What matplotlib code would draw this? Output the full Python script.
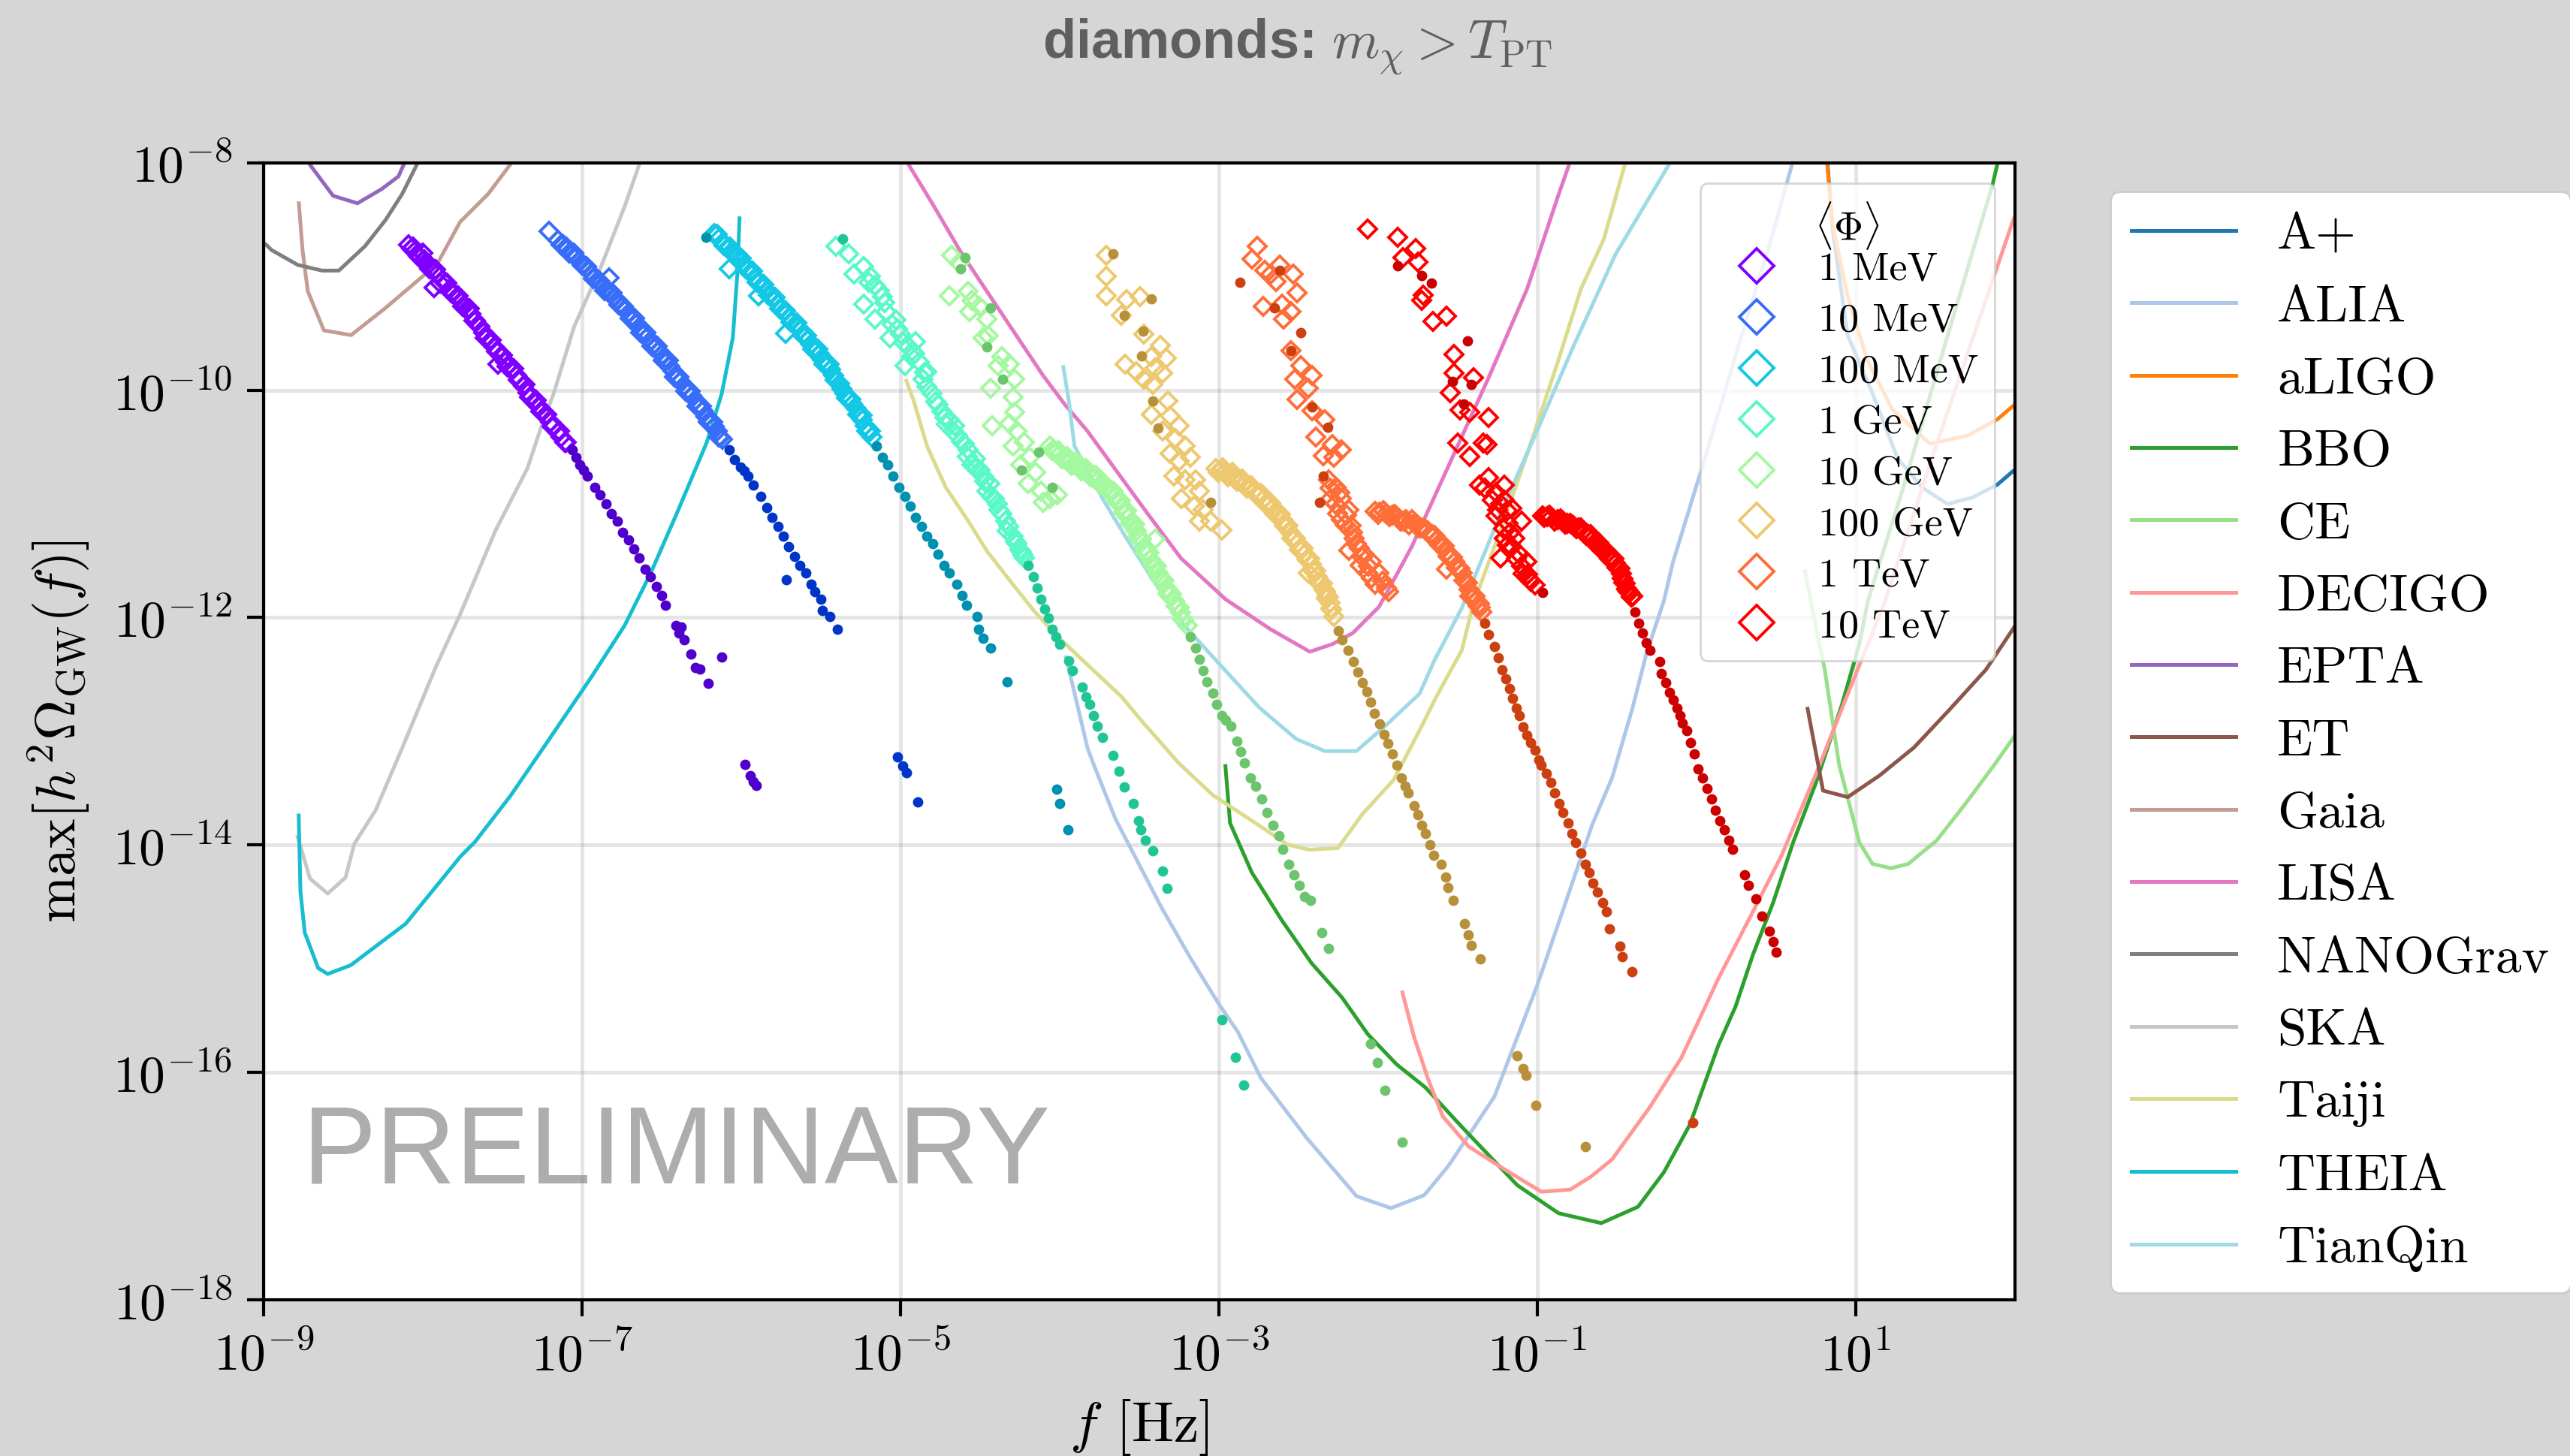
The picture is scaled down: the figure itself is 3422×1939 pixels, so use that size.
import numpy as np
import matplotlib
matplotlib.use("Agg")
import matplotlib.pyplot as plt
from matplotlib.ticker import NullLocator

plt.rcParams.update({
    "font.family": "serif",
    "font.serif": ["cmr10"],
    "mathtext.fontset": "cm",
    "axes.formatter.use_mathtext": True,
})

# --- sensitivity curves, pairs of (log10 f [Hz], log10 h^2 Omega) ---
aplus = [(0.82, -7.95), (0.854, -8.564), (0.948, -9.510), (1.105, -10.026), (1.263, -10.599),
         (1.420, -10.857), (1.577, -11.001), (1.734, -10.943), (1.891, -10.829), (1.986, -10.714), (2.05, -10.65)]
aligo = [(0.815, -7.9), (0.822, -8.020), (0.854, -8.536), (0.948, -9.166), (1.074, -9.740), (1.231, -10.169),
         (1.467, -10.470), (1.703, -10.399), (1.891, -10.255), (1.986, -10.141), (2.05, -10.07)]
alia = [(-3.96, -12.35), (-3.825, -13.148), (-3.783, -13.305), (-3.649, -13.773), (-3.360, -14.552),
        (-3.181, -14.989), (-3.003, -15.394), (-2.881, -15.644), (-2.736, -16.050), (-2.447, -16.580),
        (-2.135, -17.09), (-1.919, -17.195), (-1.710, -17.081), (-1.558, -16.823), (-1.270, -16.216),
        (-0.999, -15.230), (-0.656, -13.826), (-0.530, -13.409), (-0.403, -12.802), (-0.313, -12.309),
        (-0.205, -11.853), (-0.147, -11.509), (0.046, -10.630), (0.263, -9.616), (0.456, -8.737),
        (0.601, -8.010), (0.63, -7.9)]
bbo = [(-2.959, -13.306), (-2.930, -13.807), (-2.793, -14.243), (-2.606, -14.660), (-2.418, -15.040),
       (-2.226, -15.343), (-2.064, -15.666), (-1.883, -15.931), (-1.703, -16.133), (-1.486, -16.462),
       (-1.306, -16.728), (-1.125, -16.994), (-0.866, -17.240), (-0.598, -17.327), (-0.367, -17.183),
       (-0.205, -16.880), (-0.042, -16.462), (0.138, -15.761), (0.246, -15.419), (0.355, -14.964),
       (0.481, -14.509), (0.607, -13.978), (0.752, -13.447), (0.914, -12.764), (1.023, -12.233),
       (1.077, -11.853), (1.3, -10.85), (1.55, -9.65), (1.86, -8.19), (1.90, -7.95)]
ce = [(0.681, -11.59), (0.770, -12.219), (0.806, -12.460), (0.896, -13.295), (1.023, -13.978),
      (1.106, -14.167), (1.221, -14.205), (1.330, -14.167), (1.510, -13.959), (1.690, -13.636),
      (1.871, -13.295), (2.08, -12.877)]
decigo = [(-1.847, -15.298), (-1.775, -15.685), (-1.685, -16.064), (-1.594, -16.387), (-1.432, -16.652),
          (-1.198, -16.861), (-0.974, -17.051), (-0.793, -17.032), (-0.663, -16.918), (-0.530, -16.766),
          (-0.295, -16.311), (-0.096, -15.874), (0.012, -15.552), (0.138, -15.173), (0.355, -14.585),
          (0.535, -14.091), (0.752, -13.371), (0.951, -12.669), (1.077, -12.233), (1.185, -11.853),
          (1.50, -10.51), (1.99, -8.50), (2.05, -8.3)]
epta = [(-8.76, -7.9), (-8.704, -8.026), (-8.564, -8.289), (-8.411, -8.355), (-8.259, -8.230),
        (-8.153, -8.118), (-8.10, -7.95)]
et = [(0.698, -12.802), (0.795, -13.522), (0.950, -13.579), (1.149, -13.390), (1.366, -13.143),
      (1.582, -12.821), (1.817, -12.460), (1.997, -12.081), (2.03, -12.02)]
gaia = [(-8.779, -8.355), (-8.756, -8.766), (-8.723, -9.128), (-8.622, -9.473), (-8.451, -9.515),
        (-8.235, -9.276), (-8.000, -8.996), (-7.907, -8.881), (-7.766, -8.519), (-7.590, -8.273),
        (-7.449, -8.010), (-7.40, -7.93)]
lisa = [(-4.98, -7.92), (-4.951, -8.010), (-4.787, -8.388), (-4.622, -8.782), (-4.435, -9.177),
        (-4.247, -9.571), (-4.106, -9.867), (-3.965, -10.130), (-3.825, -10.360), (-3.637, -10.722),
        (-3.449, -11.083), (-3.238, -11.478), (-2.957, -11.840), (-2.675, -12.103), (-2.429, -12.300),
        (-2.288, -12.234), (-2.159, -12.136), (-1.994, -11.905), (-1.866, -11.577), (-1.788, -11.374),
        (-1.546, -10.630), (-1.305, -9.887), (-1.064, -9.109), (-0.871, -8.298), (-0.799, -8.010),
        (-0.78, -7.93)]
nanograv = [(-9.05, -8.66), (-8.986, -8.717), (-8.951, -8.766), (-8.786, -8.897), (-8.634, -8.947),
            (-8.528, -8.947), (-8.364, -8.733), (-8.235, -8.503), (-8.130, -8.273), (-8.036, -8.010),
            (-8.0, -7.93)]
ska = [(-8.787, -13.928), (-8.709, -14.296), (-8.598, -14.428), (-8.486, -14.287), (-8.431, -13.991),
       (-8.297, -13.695), (-8.130, -13.148), (-7.918, -12.431), (-7.766, -11.971), (-7.543, -11.231),
       (-7.344, -10.689), (-7.250, -10.294), (-7.179, -10.031), (-7.050, -9.440), (-6.886, -8.930),
       (-6.734, -8.388), (-6.640, -8.010), (-6.60, -7.9)]
taiji = [(-4.963, -9.916), (-4.916, -10.097), (-4.833, -10.492), (-4.716, -10.853), (-4.575, -11.149),
         (-4.458, -11.412), (-4.294, -11.708), (-4.153, -11.955), (-4.012, -12.168), (-3.825, -12.415),
         (-3.613, -12.694), (-3.472, -12.930), (-3.255, -13.276), (-3.039, -13.560), (-2.750, -13.826),
         (-2.569, -13.997), (-2.432, -14.042), (-2.252, -14.027), (-2.100, -13.731), (-1.902, -13.428),
         (-1.739, -12.991), (-1.631, -12.688), (-1.474, -12.287), (-1.402, -11.881), (-1.233, -11.239),
         (-1.064, -10.563), (-0.871, -9.751), (-0.726, -9.109), (-0.582, -8.670), (-0.449, -8.010),
         (-0.43, -7.93)]
theia = [(-8.780, -13.741), (-8.769, -14.412), (-8.742, -14.771), (-8.658, -15.083), (-8.598, -15.135),
         (-8.453, -15.058), (-8.108, -14.693), (-7.763, -14.100), (-7.674, -13.975), (-7.451, -13.570),
         (-7.245, -13.149), (-6.945, -12.530), (-6.733, -12.070), (-6.569, -11.609), (-6.405, -11.083),
         (-6.217, -10.459), (-6.123, -10.031), (-6.053, -9.538), (-6.025, -8.980), (-6.011, -8.487)]
tianqin = [(-3.977, -9.795), (-3.942, -10.097), (-3.907, -10.492), (-3.731, -10.952), (-3.590, -11.281),
           (-3.426, -11.642), (-3.238, -12.037), (-3.003, -12.399), (-2.745, -12.793), (-2.515, -13.067),
           (-2.335, -13.174), (-2.136, -13.174), (-1.956, -12.954), (-1.739, -12.669), (-1.649, -12.384),
           (-1.474, -11.915), (-1.185, -10.935), (-0.992, -10.326), (-0.774, -9.616), (-0.509, -8.805),
           (-0.171, -8.010), (-0.14, -7.93)]

curve_names = ["A+", "ALIA", "aLIGO", "BBO", "CE", "DECIGO", "EPTA", "ET", "Gaia", "LISA",
               "NANOGrav", "SKA", "Taiji", "THEIA", "TianQin"]
curve_data = [aplus, alia, aligo, bbo, ce, decigo, epta, et, gaia, lisa, nanograv, ska, taiji, theia, tianqin]
curve_colors = ["#1f77b4", "#aec7e8", "#ff7f0e", "#2ca02c", "#98df8a", "#ff9896", "#9467bd", "#8c564b",
                "#c49c94", "#e377c2", "#7f7f7f", "#c7c7c7", "#dbdb8d", "#17becf", "#9edae5"]

# --- spectra peaks: diamonds and dots, pairs of (log10 f, log10 peak) ---
dia_1mev = [(-8.09, -8.72), (-8.07, -8.75), (-8.05, -8.78), (-8.02, -8.83), (-8.00, -8.79), (-8.00, -8.86),
            (-7.98, -8.88), (-7.95, -8.92), (-7.93, -8.95), (-7.93, -9.10), (-7.91, -8.98), (-7.88, -9.03),
            (-7.86, -9.06), (-7.83, -9.11), (-7.81, -9.14), (-7.79, -9.18), (-7.76, -9.22), (-7.74, -9.26),
            (-7.72, -9.29), (-7.70, -9.33), (-7.67, -9.39), (-7.65, -9.43), (-7.62, -9.49), (-7.60, -9.54),
            (-7.58, -9.57), (-7.55, -9.62), (-7.53, -9.66), (-7.53, -9.77), (-7.51, -9.70), (-7.48, -9.75),
            (-7.46, -9.78), (-7.44, -9.82), (-7.41, -9.87), (-7.39, -9.91), (-7.37, -9.96), (-7.34, -10.02),
            (-7.32, -10.06), (-7.30, -10.10), (-7.27, -10.15), (-7.25, -10.19), (-7.23, -10.22), (-7.20, -10.28),
            (-7.18, -10.32), (-7.15, -10.37), (-7.13, -10.41), (-7.10, -10.46),
            (-8.06, -8.74), (-8.03, -8.82), (-7.99, -8.85), (-7.96, -8.93), (-7.92, -8.94), (-7.89, -9.06),
            (-7.85, -9.06), (-7.82, -9.14), (-7.78, -9.17), (-7.75, -9.26), (-7.71, -9.28), (-7.68, -9.39),
            (-7.64, -9.44), (-7.61, -9.54), (-7.57, -9.56), (-7.54, -9.66), (-7.50, -9.69), (-7.47, -9.79),
            (-7.43, -9.81), (-7.40, -9.91), (-7.36, -9.95), (-7.33, -10.06), (-7.29, -10.09), (-7.26, -10.19),
            (-7.22, -10.21), (-7.19, -10.32), (-7.14, -10.36), (-7.11, -10.46)]
dot_1mev = [(-7.062, -10.525), (-7.04, -10.59), (-7.015, -10.656), (-6.99, -10.70), (-6.968, -10.755),
            (-6.921, -10.853), (-6.886, -10.919), (-6.851, -11.001), (-6.816, -11.083), (-6.780, -11.149),
            (-6.745, -11.248), (-6.710, -11.314), (-6.675, -11.396), (-6.640, -11.478), (-6.604, -11.577),
            (-6.569, -11.642), (-6.534, -11.725), (-6.499, -11.807), (-6.475, -11.889), (-6.410, -12.070),
            (-6.377, -12.080), (-6.393, -12.135), (-6.358, -12.195), (-6.316, -12.320), (-6.288, -12.438),
            (-6.259, -12.451), (-6.206, -12.579), (-6.123, -12.349), (-5.977, -13.289), (-5.942, -13.392),
            (-5.926, -13.445), (-5.904, -13.476)]

dia_10mev = [(-7.207, -8.60), (-7.15, -8.68), (-7.12, -8.72), (-7.10, -8.74), (-7.07, -8.78), (-7.04, -8.83),
             (-7.02, -8.86), (-6.99, -8.90), (-6.96, -8.95), (-6.94, -8.98), (-6.92, -9.01), (-6.90, -9.04),
             (-6.87, -9.08), (-6.85, -9.11), (-6.83, -9.01), (-6.83, -9.14), (-6.80, -9.18), (-6.78, -9.21),
             (-6.75, -9.26), (-6.73, -9.29), (-6.71, -9.33), (-6.68, -9.37), (-6.66, -9.41), (-6.64, -9.45),
             (-6.61, -9.50), (-6.59, -9.53), (-6.57, -9.57), (-6.55, -9.60), (-6.52, -9.65), (-6.50, -9.69),
             (-6.48, -9.73), (-6.45, -9.79), (-6.43, -9.83), (-6.41, -9.87), (-6.38, -9.92), (-6.36, -9.96),
             (-6.34, -10.00), (-6.31, -10.05), (-6.29, -10.09), (-6.27, -10.13), (-6.24, -10.18), (-6.22, -10.23),
             (-6.20, -10.27), (-6.17, -10.32), (-6.15, -10.36), (-6.13, -10.41), (-6.12, -10.43),
             (-7.13, -8.72), (-7.08, -8.79), (-7.05, -8.79), (-7.00, -8.90), (-6.97, -8.91), (-6.93, -9.02),
             (-6.89, -9.04), (-6.86, -9.12), (-6.81, -9.14), (-6.77, -9.25), (-6.74, -9.26), (-6.70, -9.37),
             (-6.67, -9.37), (-6.63, -9.49), (-6.60, -9.49), (-6.56, -9.61), (-6.53, -9.61), (-6.49, -9.74),
             (-6.46, -9.74), (-6.42, -9.88), (-6.39, -9.88), (-6.35, -10.01), (-6.32, -10.01), (-6.28, -10.14),
             (-6.25, -10.14), (-6.21, -10.28), (-6.18, -10.28), (-6.14, -10.41)]
dot_10mev = [(-6.077, -10.525), (-6.041, -10.607), (-6.006, -10.673), (-5.98, -10.71), (-5.959, -10.755),
             (-5.924, -10.837), (-5.877, -10.936), (-5.842, -11.034), (-5.807, -11.116), (-5.771, -11.199),
             (-5.736, -11.281), (-5.701, -11.379), (-5.666, -11.461), (-5.631, -11.544), (-5.596, -11.609),
             (-5.560, -11.708), (-5.537, -11.774), (-5.502, -11.840), (-5.490, -11.938), (-5.443, -11.988),
             (-5.396, -12.103), (-5.718, -11.669), (-5.018, -13.227), (-4.985, -13.305), (-4.962, -13.367),
             (-4.891, -13.623)]

dia_100mev = [(-6.17, -8.62), (-6.14, -8.67), (-6.12, -8.70), (-6.10, -8.72), (-6.08, -8.75), (-6.077, -8.93),
              (-6.05, -8.79), (-6.03, -8.82), (-6.01, -8.85), (-5.98, -8.89), (-5.96, -8.93), (-5.94, -8.96),
              (-5.91, -9.01), (-5.89, -9.05), (-5.89, -9.17), (-5.87, -9.08), (-5.84, -9.12), (-5.82, -9.16),
              (-5.80, -9.19), (-5.77, -9.24), (-5.75, -9.28), (-5.73, -9.31), (-5.72, -9.50), (-5.70, -9.36),
              (-5.68, -9.39), (-5.65, -9.44), (-5.63, -9.47), (-5.61, -9.51), (-5.58, -9.56), (-5.56, -9.60),
              (-5.54, -9.64), (-5.51, -9.68), (-5.49, -9.73), (-5.47, -9.77), (-5.44, -9.82), (-5.42, -9.87),
              (-5.40, -9.92), (-5.37, -9.99), (-5.35, -10.03), (-5.33, -10.07), (-5.30, -10.12), (-5.28, -10.16),
              (-5.26, -10.21), (-5.24, -10.26), (-5.22, -10.31), (-5.20, -10.36), (-5.18, -10.41),
              (-6.15, -8.63), (-6.11, -8.73), (-6.07, -8.74), (-6.04, -8.82), (-6.00, -8.84), (-5.97, -8.93),
              (-5.93, -8.95), (-5.90, -9.05), (-5.86, -9.07), (-5.83, -9.16), (-5.79, -9.18), (-5.76, -9.28),
              (-5.72, -9.30), (-5.69, -9.40), (-5.65, -9.41), (-5.62, -9.51), (-5.59, -9.52), (-5.55, -9.64),
              (-5.52, -9.64), (-5.48, -9.77), (-5.45, -9.77), (-5.41, -9.91), (-5.38, -9.94), (-5.34, -10.07),
              (-5.31, -10.08), (-5.27, -10.21), (-5.24, -10.22), (-5.21, -10.36), (-5.19, -10.36)]
dot_100mev = [(-6.222, -8.651), (-5.150, -10.492), (-5.115, -10.590), (-5.080, -10.656), (-5.045, -10.755),
              (-5.009, -10.853), (-4.974, -10.936), (-4.939, -11.018), (-4.904, -11.116), (-4.869, -11.199),
              (-4.833, -11.281), (-4.798, -11.347), (-4.763, -11.445), (-4.728, -11.544), (-4.693, -11.609),
              (-4.646, -11.708), (-4.611, -11.807), (-4.587, -11.889), (-4.517, -11.988), (-4.510, -12.103),
              (-4.482, -12.185), (-4.435, -12.267), (-4.329, -12.563), (-4.021, -13.507), (-4.001, -13.632),
              (-3.947, -13.869)]

dia_1gev = [(-5.408, -8.733), (-5.326, -8.799), (-5.291, -8.980), (-5.232, -8.914), (-5.19, -9.00),
            (-5.162, -9.078), (-5.232, -9.243), (-5.13, -9.12), (-5.115, -9.177), (-5.092, -9.308),
            (-5.162, -9.374), (-5.05, -9.42), (-5.02, -9.46), (-4.998, -9.506), (-5.068, -9.538),
            (-4.904, -9.571), (-4.95, -9.62), (-4.927, -9.703), (-4.974, -9.785), (-4.88, -9.75),
            (-4.833, -9.834), (-4.86, -9.90), (-4.833, -9.966), (-4.80, -10.03), (-4.763, -10.130),
            (-4.74, -10.19), (-4.72, -10.24), (-4.693, -10.262), (-4.669, -10.360), (-4.64, -10.40),
            (-4.60, -10.47), (-4.575, -10.525), (-4.552, -10.656), (-4.53, -10.60), (-4.50, -10.70),
            (-4.482, -10.755), (-4.458, -10.886), (-4.44, -10.82), (-4.411, -10.952), (-4.39, -11.00),
            (-4.364, -11.083), (-4.341, -11.149), (-4.32, -11.20), (-4.294, -11.281), (-4.270, -11.347),
            (-4.25, -11.40), (-4.23, -11.45), (-4.224, -11.478),
            (-5.20, -9.05), (-5.10, -9.23), (-5.03, -9.38), (-4.98, -9.58), (-4.91, -9.68), (-4.85, -9.84),
            (-4.78, -10.10), (-4.71, -10.30), (-4.66, -10.31), (-4.62, -10.45), (-4.58, -10.58), (-4.52, -10.68),
            (-4.47, -10.80), (-4.43, -10.93), (-4.38, -11.05), (-4.33, -11.24), (-4.28, -11.33), (-4.24, -11.42)]
dot_1gev = [(-5.361, -8.667), (-4.200, -11.544), (-4.165, -11.642), (-4.141, -11.741), (-4.118, -11.840),
            (-4.094, -11.922), (-4.071, -12.004), (-4.047, -12.103), (-4.024, -12.168), (-4.001, -12.234),
            (-3.942, -12.382), (-3.918, -12.464), (-3.860, -12.612), (-3.836, -12.694), (-3.813, -12.760),
            (-3.789, -12.859), (-3.766, -12.957), (-3.731, -13.056), (-3.664, -13.211), (-3.627, -13.351),
            (-3.593, -13.492), (-3.538, -13.632), (-3.504, -13.788), (-3.489, -13.866), (-3.460, -13.960),
            (-3.415, -14.053), (-3.353, -14.231), (-3.324, -14.384), (-2.981, -15.538), (-2.896, -15.869),
            (-2.843, -16.115)]

dia_10gev = [(-4.681, -8.815), (-4.634, -8.881), (-4.693, -9.170), (-4.575, -9.128), (-4.552, -9.210),
             (-4.505, -9.259), (-4.564, -9.308), (-4.458, -9.374), (-4.446, -9.522), (-4.482, -9.538),
             (-4.364, -9.703), (-4.388, -9.785), (-4.317, -9.768), (-4.282, -9.900), (-4.435, -9.982),
             (-4.294, -10.064), (-4.282, -10.196), (-4.423, -10.311), (-4.317, -10.294), (-4.270, -10.360),
             (-4.224, -10.459), (-4.188, -10.590), (-4.294, -10.492), (-4.247, -10.656), (-4.153, -10.722),
             (-4.200, -10.821), (-4.118, -10.886), (-4.059, -10.952), (-4.106, -10.985), (-4.012, -10.919),
             (-4.06, -10.49), (-4.03, -10.54), (-4.00, -10.56), (-3.97, -10.59), (-3.94, -10.62), (-3.91, -10.65),
             (-3.88, -10.67), (-3.85, -10.70), (-3.82, -10.72), (-3.79, -10.76), (-3.76, -10.79), (-3.73, -10.83),
             (-3.71, -10.85), (-3.68, -10.90), (-3.65, -10.94), (-3.63, -10.98), (-3.61, -11.02), (-3.59, -11.07),
             (-3.57, -11.12), (-3.54, -11.18), (-3.52, -11.24), (-3.50, -11.31), (-3.47, -11.38), (-3.45, -11.43),
             (-3.43, -11.49), (-3.40, -11.54), (-3.40, -11.31), (-3.38, -11.61), (-3.36, -11.67), (-3.33, -11.74),
             (-3.31, -11.79), (-3.28, -11.85), (-3.26, -11.91), (-3.24, -11.96), (-3.22, -12.02), (-3.20, -12.07),
             (-4.045, -10.53), (-4.01, -10.53), (-3.985, -10.60), (-3.955, -10.58), (-3.925, -10.66),
             (-3.895, -10.63), (-3.865, -10.71), (-3.835, -10.69), (-3.805, -10.76), (-3.775, -10.75),
             (-3.745, -10.83), (-3.72, -10.82), (-3.695, -10.89), (-3.665, -10.89), (-3.64, -10.98),
             (-3.62, -10.97), (-3.60, -11.07), (-3.58, -11.06), (-3.555, -11.17), (-3.53, -11.18),
             (-3.51, -11.29), (-3.485, -11.31), (-3.46, -11.43), (-3.44, -11.43), (-3.415, -11.54),
             (-3.39, -11.55), (-3.37, -11.66), (-3.345, -11.67), (-3.32, -11.79), (-3.295, -11.79),
             (-3.27, -11.90), (-3.25, -11.91), (-3.23, -12.01)]
dot_10gev = [(-4.594, -8.832), (-4.622, -8.930), (-4.435, -9.276), (-4.458, -9.621), (-4.360, -9.900),
             (-4.242, -10.705), (-4.047, -10.853), (-4.130, -10.541), (-3.179, -12.168), (-3.144, -12.267),
             (-3.121, -12.366), (-3.097, -12.464), (-3.074, -12.563), (-3.039, -12.661), (-3.015, -12.760),
             (-2.980, -12.859), (-2.959, -12.900), (-2.923, -12.954), (-2.887, -13.086), (-2.865, -13.181),
             (-2.840, -13.276), (-2.804, -13.409), (-2.768, -13.485), (-2.732, -13.598), (-2.696, -13.712),
             (-2.660, -13.826), (-2.624, -13.921), (-2.598, -14.035), (-2.562, -14.167), (-2.526, -14.262),
             (-2.497, -14.357), (-2.461, -14.452), (-2.425, -14.490), (-2.353, -14.774), (-2.310, -14.907),
             (-2.046, -15.749), (-2.003, -15.913), (-1.956, -16.159), (-1.848, -16.614)]

dia_100gev = [(-3.707, -8.815), (-3.707, -8.996), (-3.707, -9.170), (-3.578, -9.203), (-3.496, -9.177),
              (-3.613, -9.341), (-3.473, -9.506), (-3.367, -9.604), (-3.426, -9.703), (-3.332, -9.719),
              (-3.590, -9.768), (-3.520, -9.834), (-3.402, -9.801), (-3.473, -9.900), (-3.355, -9.851),
              (-3.414, -9.949), (-3.320, -10.097), (-3.426, -10.212), (-3.308, -10.229), (-3.250, -10.311),
              (-3.355, -10.360), (-3.273, -10.426), (-3.214, -10.492), (-3.308, -10.558), (-3.250, -10.623),
              (-3.179, -10.590), (-3.285, -10.755), (-3.214, -10.788), (-3.144, -10.788), (-3.121, -10.886),
              (-3.238, -10.952), (-3.156, -11.018), (-3.097, -11.051), (-3.121, -11.149), (-3.050, -11.149),
              (-2.980, -11.231),
              (-3.02, -10.69), (-2.99, -10.70), (-2.96, -10.72), (-2.93, -10.74), (-2.90, -10.76), (-2.87, -10.79),
              (-2.84, -10.82), (-2.81, -10.85), (-2.78, -10.88), (-2.75, -10.92), (-2.72, -10.96), (-2.69, -11.00),
              (-2.66, -11.04), (-2.63, -11.09), (-2.60, -11.14), (-2.58, -11.18), (-2.55, -11.25), (-2.53, -11.30),
              (-2.51, -11.35), (-2.48, -11.40), (-2.46, -11.44), (-2.44, -11.48), (-2.44, -11.61), (-2.42, -11.53),
              (-2.40, -11.59), (-2.38, -11.64), (-2.36, -11.70), (-2.34, -11.75), (-2.33, -11.77), (-2.32, -11.81),
              (-2.30, -11.87), (-2.29, -11.93), (-2.28, -11.99),
              (-3.005, -10.72), (-2.975, -10.68), (-2.945, -10.76), (-2.915, -10.72), (-2.885, -10.80),
              (-2.855, -10.78), (-2.825, -10.86), (-2.795, -10.84), (-2.765, -10.92), (-2.735, -10.91),
              (-2.705, -11.00), (-2.675, -10.99), (-2.645, -11.09), (-2.615, -11.09), (-2.59, -11.19),
              (-2.565, -11.19), (-2.54, -11.30), (-2.52, -11.30), (-2.495, -11.40), (-2.47, -11.39),
              (-2.45, -11.49), (-2.43, -11.48), (-2.41, -11.59), (-2.39, -11.59), (-2.37, -11.70),
              (-2.35, -11.70), (-2.325, -11.83), (-2.31, -11.82), (-2.295, -11.92)]
dot_100gev = [(-3.665, -8.799), (-3.426, -9.193), (-3.595, -9.341), (-3.477, -9.479), (-3.484, -9.696),
              (-3.414, -10.097), (-3.384, -10.334), (-3.050, -10.985), (-2.252, -12.119), (-2.226, -12.195),
              (-2.190, -12.290), (-2.154, -12.384), (-2.129, -12.479), (-2.100, -12.574), (-2.071, -12.650),
              (-2.046, -12.745), (-2.021, -12.840), (-1.992, -12.935), (-1.963, -13.029), (-1.938, -13.105),
              (-1.912, -13.200), (-1.883, -13.295), (-1.855, -13.409), (-1.829, -13.485), (-1.811, -13.541),
              (-1.775, -13.655), (-1.750, -13.731), (-1.728, -13.826), (-1.703, -13.902), (-1.674, -13.997),
              (-1.649, -14.092), (-1.602, -14.167), (-1.577, -14.281), (-1.559, -14.376), (-1.530, -14.490),
              (-1.458, -14.691), (-1.432, -14.793), (-1.414, -14.881), (-1.360, -15.002), (-1.125, -15.856),
              (-1.089, -15.969), (-1.071, -16.026), (-1.010, -16.292), (-0.699, -16.652)]

dia_1tev = [(-2.757, -8.733), (-2.792, -8.848), (-2.710, -8.947), (-2.616, -8.897), (-2.675, -8.980),
            (-2.534, -8.980), (-2.640, -9.045), (-2.511, -9.144), (-2.722, -9.259), (-2.604, -9.243),
            (-2.546, -9.308), (-2.593, -9.374), (-2.546, -9.654), (-2.487, -9.785), (-2.417, -9.867),
            (-2.522, -9.900), (-2.440, -9.982), (-2.511, -10.081), (-2.417, -10.179), (-2.335, -10.262),
            (-2.393, -10.410), (-2.288, -10.475), (-2.229, -10.525), (-2.346, -10.574), (-2.276, -10.590),
            (-2.311, -10.788), (-2.264, -10.853), (-2.30, -10.86), (-2.24, -10.90), (-2.299, -10.952),
            (-2.229, -10.952), (-2.27, -11.00), (-2.253, -11.083), (-2.182, -11.051), (-2.20, -11.10),
            (-2.23, -11.14), (-2.206, -11.182), (-2.17, -11.19), (-2.159, -11.248), (-2.15, -11.30),
            (-2.135, -11.347), (-2.12, -11.39), (-2.182, -11.412), (-2.088, -11.445), (-2.10, -11.47),
            (-2.112, -11.544), (-2.06, -11.55), (-2.041, -11.511), (-2.065, -11.609), (-1.994, -11.609),
            (-2.04, -11.65), (-2.018, -11.708), (-1.97, -11.68), (-1.948, -11.741), (-1.936, -11.774),
            (-2.018, -11.067), (-1.99, -11.07), (-1.948, -11.083), (-1.91, -11.10), (-1.877, -11.116),
            (-1.84, -11.15), (-1.807, -11.182), (-1.788, -11.137), (-1.76, -11.18), (-1.73, -11.21),
            (-1.69, -11.24), (-1.66, -11.27), (-1.63, -11.32), (-1.60, -11.37), (-1.57, -11.42), (-1.55, -11.46),
            (-1.52, -11.51), (-1.50, -11.56), (-1.47, -11.61), (-1.45, -11.68), (-1.43, -11.75), (-1.40, -11.80),
            (-1.38, -11.85), (-1.36, -11.91), (-1.35, -11.95), (-1.571, -11.577), (-1.426, -11.814),
            (-1.365, -11.881),
            (-2.00, -11.09), (-1.965, -11.06), (-1.93, -11.11), (-1.895, -11.09), (-1.86, -11.15),
            (-1.825, -11.14), (-1.775, -11.17), (-1.745, -11.21), (-1.71, -11.21), (-1.675, -11.27),
            (-1.645, -11.28), (-1.615, -11.36), (-1.585, -11.37), (-1.56, -11.46), (-1.535, -11.47),
            (-1.51, -11.56), (-1.485, -11.57), (-1.46, -11.67), (-1.44, -11.69), (-1.415, -11.80),
            (-1.39, -11.81), (-1.37, -11.90)]
dot_1tev = [(-2.867, -9.052), (-2.616, -8.947), (-2.651, -9.276), (-2.487, -9.496), (-2.546, -9.654),
            (-2.417, -10.147), (-2.318, -10.327), (-2.346, -10.755), (-2.370, -10.985), (-1.329, -12.050),
            (-1.305, -12.152), (-1.269, -12.253), (-1.245, -12.354), (-1.221, -12.456), (-1.197, -12.540),
            (-1.173, -12.625), (-1.156, -12.709), (-1.132, -12.794), (-1.112, -12.862), (-1.088, -12.963),
            (-1.064, -13.031), (-1.040, -13.098), (-1.016, -13.166), (-0.992, -13.251), (-0.974, -13.295),
            (-0.945, -13.371), (-0.916, -13.447), (-0.891, -13.541), (-0.865, -13.636), (-0.837, -13.712),
            (-0.808, -13.807), (-0.782, -13.902), (-0.757, -13.978), (-0.728, -14.073), (-0.699, -14.167),
            (-0.674, -14.243), (-0.649, -14.338), (-0.620, -14.414), (-0.591, -14.509), (-0.566, -14.585),
            (-0.548, -14.737), (-0.483, -14.888), (-0.468, -14.983), (-0.403, -15.116), (-0.024, -16.444)]

dia_10tev = [(-2.065, -8.579), (-1.877, -8.651), (-1.842, -8.832), (-1.764, -8.754), (-1.752, -8.872),
             (-1.715, -9.160), (-1.727, -9.210), (-1.655, -9.396), (-1.571, -9.346), (-1.522, -9.684),
             (-1.522, -9.853), (-1.402, -9.887), (-1.546, -10.022), (-1.486, -10.174), (-1.426, -10.191),
             (-1.305, -10.242), (-1.498, -10.461), (-1.341, -10.461), (-1.315, -10.48), (-1.426, -10.580),
             (-1.365, -10.833), (-1.305, -10.766), (-1.33, -10.86), (-1.209, -10.833), (-1.26, -10.90),
             (-1.281, -10.968), (-1.209, -10.968), (-1.23, -11.00), (-1.160, -11.036), (-1.25, -11.05),
             (-1.19, -11.06), (-1.257, -11.104), (-1.185, -11.171), (-1.100, -11.154), (-1.21, -11.22),
             (-1.17, -11.25), (-1.14, -11.30), (-1.209, -11.306), (-1.19, -11.36), (-1.160, -11.374),
             (-1.233, -11.476), (-1.112, -11.442), (-1.13, -11.48), (-1.064, -11.509), (-1.10, -11.55),
             (-1.088, -11.611), (-1.06, -11.62), (-1.05, -11.66), (-1.040, -11.678), (-1.016, -11.712),
             (-0.967, -11.104), (-0.94, -11.11), (-0.91, -11.12), (-0.871, -11.137), (-0.84, -11.15),
             (-0.81, -11.17), (-0.774, -11.188), (-0.74, -11.21), (-0.71, -11.24), (-0.678, -11.273),
             (-0.65, -11.31), (-0.63, -11.34), (-0.606, -11.374), (-0.58, -11.41), (-0.56, -11.44),
             (-0.533, -11.476), (-0.51, -11.52), (-0.49, -11.57), (-0.473, -11.611), (-0.46, -11.66),
             (-0.447, -11.70), (-0.437, -11.746), (-0.42, -11.78), (-0.40, -11.81),
             (-0.955, -11.12), (-0.925, -11.10), (-0.89, -11.15), (-0.855, -11.13), (-0.825, -11.18),
             (-0.79, -11.17), (-0.755, -11.22), (-0.725, -11.21), (-0.695, -11.28), (-0.665, -11.27),
             (-0.64, -11.34), (-0.615, -11.34), (-0.595, -11.41), (-0.57, -11.41), (-0.545, -11.48),
             (-0.52, -11.48), (-0.50, -11.56), (-0.48, -11.57), (-0.465, -11.65), (-0.455, -11.69),
             (-0.44, -11.75), (-0.43, -11.77), (-0.41, -11.82)]
dot_10tev = [(-1.877, -8.907), (-1.727, -8.991), (-1.667, -9.058), (-1.438, -9.566), (-1.534, -9.920),
             (-1.414, -9.947), (-1.462, -10.123), (-0.967, -11.780), (-0.388, -11.949), (-0.364, -12.050),
             (-0.340, -12.135), (-0.316, -12.220), (-0.292, -12.287), (-0.232, -12.388), (-0.220, -12.490),
             (-0.195, -12.574), (-0.171, -12.659), (-0.147, -12.726), (-0.123, -12.794), (-0.104, -12.862),
             (-0.087, -12.929), (-0.063, -12.997), (-0.039, -13.098), (-0.015, -13.200), (0.012, -13.333),
             (0.037, -13.409), (0.066, -13.503), (0.095, -13.598), (0.120, -13.693), (0.145, -13.788),
             (0.174, -13.864), (0.203, -13.959), (0.228, -14.035), (0.301, -14.262), (0.326, -14.357),
             (0.373, -14.471), (0.409, -14.623), (0.456, -14.755), (0.481, -14.850), (0.499, -14.945)]

mass_labels = ["1 MeV", "10 MeV", "100 MeV", "1 GeV", "10 GeV", "100 GeV", "1 TeV", "10 TeV"]
diamonds = [dia_1mev, dia_10mev, dia_100mev, dia_1gev, dia_10gev, dia_100gev, dia_1tev, dia_10tev]
dots = [dot_1mev, dot_10mev, dot_100mev, dot_1gev, dot_10gev, dot_100gev, dot_1tev, dot_10tev]
dot_colors = ["#5000cc", "#0035c8", "#0090b0", "#20c596", "#6cc46c", "#b8903a", "#cc4010", "#cc0000"]


def to_xy(pairs):
    a = np.array(pairs)
    return 10 ** a[:, 0], 10 ** a[:, 1]


fig = plt.figure(figsize=(17.11, 9.695), dpi=200, facecolor="#d6d6d6")
ax = fig.add_axes([0.1026, 0.1074, 0.6814, 0.7807])
ax.set_facecolor("white")
ax.set_xscale("log")
ax.set_yscale("log")

line_handles = []
for name, data, col in zip(curve_names, curve_data, curve_colors):
    x, y = to_xy(data)
    h, = ax.plot(x, y, color=col, lw=1.8, label=name, zorder=2)
    line_handles.append(h)

mass_colors = plt.cm.rainbow(np.linspace(0, 1, len(mass_labels)))
dia_handles = []
for lab, dd, pp, col, dcol in zip(mass_labels, diamonds, dots, mass_colors, dot_colors):
    x, y = to_xy(dd)
    h, = ax.plot(x, y, ls="none", marker="D", ms=6.2, mfc="none", mec=col, mew=1.4, label=lab, zorder=3)
    dia_handles.append(h)
    x, y = to_xy(pp)
    ax.plot(x, y, ls="none", marker="o", ms=5.0, mfc=dcol, mec="none", zorder=4)

ax.set_xlim(1e-9, 1e2)
ax.set_ylim(1e-18, 1e-8)
ax.set_xticks([1e-9, 1e-7, 1e-5, 1e-3, 1e-1, 1e1])
ax.set_yticks([1e-18, 1e-16, 1e-14, 1e-12, 1e-10, 1e-8])
ax.xaxis.set_minor_locator(NullLocator())
ax.yaxis.set_minor_locator(NullLocator())
ax.tick_params(which="major", length=8, width=1.5, labelsize=25, pad=7)
for sp in ax.spines.values():
    sp.set_linewidth(1.5)
ax.set_axisbelow(True)
ax.grid(True, color="gray", alpha=0.2, lw=1.8)

ax.set_xlabel(r"$f$ [Hz]", fontsize=27, labelpad=8)
ax.set_ylabel(r"$\max[h^2\Omega_{\rm GW}(f)]$", fontsize=27, labelpad=10)

ax.text(0.022, 0.102, "PRELIMINARY", transform=ax.transAxes, fontsize=53, family="Liberation Sans",
        color="#adadad", ha="left", va="baseline", zorder=0.4)

leg = ax.legend(handles=dia_handles, title=r"$\langle\Phi\rangle$", loc="upper right", fontsize=19.5,
                title_fontsize=19.5, markerscale=1.9, labelspacing=0.37, handletextpad=0.5)
leg._legend_box.sep = 0  # title sits close to the first entry
fig.legend(handles=line_handles, loc="upper left", bbox_to_anchor=(2810 / 3422, 1 - 255 / 1939),
           borderaxespad=0, fontsize=25, labelspacing=0.50, framealpha=1)

fig.text(0.505, 0.9600, r"diamonds: $m_\chi > T_{\rm PT}$", ha="center", va="baseline", fontsize=26,
         family="Liberation Sans", weight="bold", color="#5f5f5f")

fig.savefig("out.png", dpi=200, facecolor=fig.get_facecolor())
